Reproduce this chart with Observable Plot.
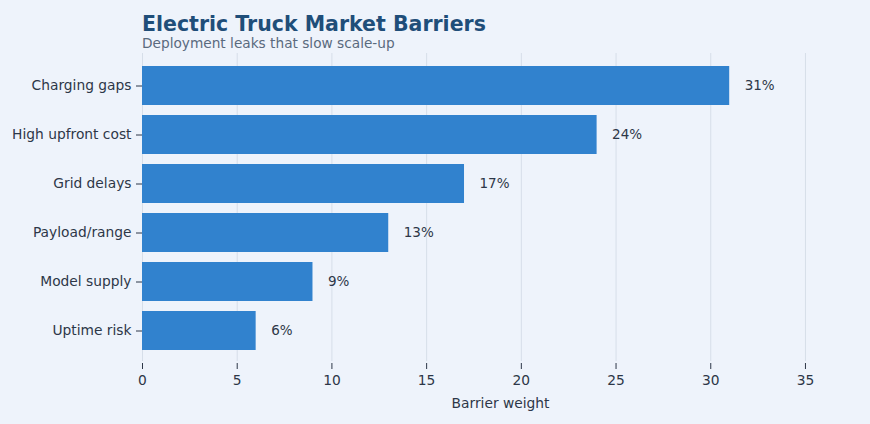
<!DOCTYPE html>
<html>
<head>
<meta charset="utf-8">
<script src="https://cdn.jsdelivr.net/npm/d3@7"></script>
<script src="https://cdn.jsdelivr.net/npm/@observablehq/plot@0.6"></script>
<style>
  html, body { margin: 0; padding: 0; background: #eef3fb; }
  body { width: 870px; height: 424px; position: relative; overflow: hidden; font-family: "DejaVu Sans", sans-serif; }
  #title { position: absolute; left: 142px; top: 14px; font-size: 20.5px; line-height: 20px; font-weight: bold; color: #1f4e79; white-space: nowrap; }
  #subtitle { position: absolute; left: 142px; top: 35.5px; font-size: 13.7px; line-height: 14px; color: #5a6a7e; white-space: nowrap; }
  #chart { position: absolute; left: 0; top: 52px; }
</style>
</head>
<body>
<div id="title">Electric Truck Market Barriers</div>
<div id="subtitle">Deployment leaks that slow scale-up</div>
<div id="chart"></div>
<script>
const categories = ["Charging gaps", "High upfront cost", "Grid delays", "Payload/range", "Model supply", "Uptime risk"];
const values = [31, 24, 17, 13, 9, 6];
const xTicks = [0, 5, 10, 15, 20, 25, 30, 35];

const data = categories.map((c, i) => ({category: c, value: values[i]}));

const textColor = "#2d3748";

const chart = Plot.plot({
  width: 870,
  height: 372,
  marginLeft: 142,
  marginRight: 12,
  marginTop: 1,
  marginBottom: 63,
  style: {background: "transparent", fontFamily: "DejaVu Sans, sans-serif", fontSize: "13.8px", color: textColor},
  x: {domain: [0, 37.8]},
  y: {domain: categories, padding: 0.2, insetTop: 3, insetBottom: 0},
  marks: [
    Plot.gridX(xTicks, {stroke: "#d6dee9", strokeOpacity: 1, strokeWidth: 1}),
    Plot.barX(data, {x: "value", y: "category", fill: "#3182ce"}),
    Plot.text(data, {x: "value", y: "category", text: d => d.value + "%", textAnchor: "start", dx: 15, fill: textColor, fontSize: 13.5}),
    Plot.axisX(xTicks, {tickSize: 6, tickPadding: 6, dy: 2, fill: textColor, stroke: textColor, fontSize: 13.8, label: "Barrier weight", labelAnchor: "center", labelOffset: 46, labelArrow: "none"}),
    Plot.axisY({tickSize: 6, tickPadding: 5, fill: textColor, stroke: textColor, fontSize: 13.8, label: null})
  ]
});
document.getElementById("chart").appendChild(chart);
</script>
</body>
</html>
